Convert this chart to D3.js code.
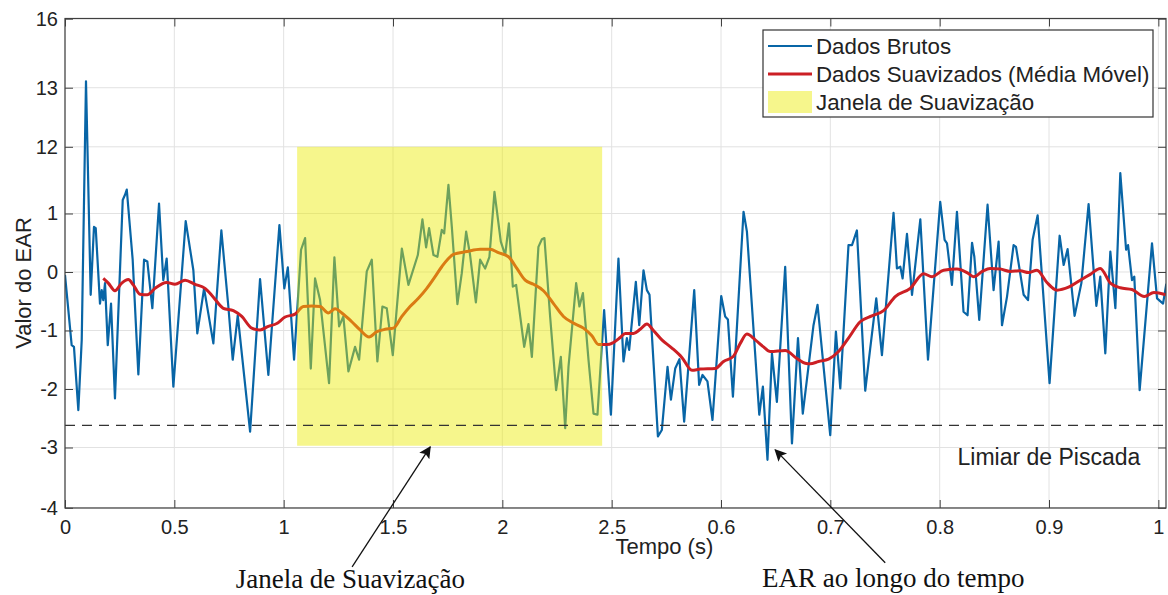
<!DOCTYPE html>
<html>
<head>
<meta charset="utf-8">
<script src="https://cdn.jsdelivr.net/npm/d3@7"></script>
<style>
  body { margin: 0; background: #fff; }
  text { font-family: "Liberation Sans", Arial, sans-serif; fill: #222; }
</style>
</head>
<body>
<script>
// ticks (positions on the axis + the labels as printed)
const xTickVals = [0, 1, 2, 3, 4, 5, 6, 7, 8, 9, 10]
const xTickLabels = ["0", "0.5", "1", "1.5", "2", "2.5", "0.6", "0.7", "0.8", "0.9", "1"]
const yTickVals = [-4.03, -3, -2, -1, 0, 1, 2.14, 3.15, 4.33]
const yTickLabels = ["-4", "-3", "-2", "-1", "0", "1", "12", "13", "16"]

// raw EAR signal (time in tick units, value)
const rawTime = [0.000, 0.061, 0.082, 0.122, 0.153, 0.192, 0.235, 0.265, 0.281, 0.320, 0.336, 0.350, 0.366, 0.391, 0.421, 0.457,
  0.528, 0.549, 0.565, 0.619, 0.671, 0.723, 0.753, 0.799, 0.860, 0.899, 0.930, 0.991, 1.104, 1.174, 1.210, 1.272,
  1.357, 1.430, 1.494, 1.534, 1.580, 1.693, 1.784, 1.860, 1.961, 2.006, 2.038, 2.095, 2.159, 2.196, 2.248, 2.287,
  2.333, 2.415, 2.464, 2.507, 2.546, 2.592, 2.653, 2.690, 2.760, 2.806, 2.857, 2.903, 2.943, 2.998, 3.081, 3.141,
  3.227, 3.269, 3.303, 3.330, 3.370, 3.406, 3.446, 3.468, 3.507, 3.538, 3.589, 3.629, 3.669, 3.705, 3.758, 3.797,
  3.843, 3.882, 3.928, 3.986, 4.026, 4.060, 4.096, 4.126, 4.200, 4.239, 4.270, 4.330, 4.362, 4.385, 4.437, 4.492,
  4.535, 4.575, 4.605, 4.675, 4.705, 4.737, 4.788, 4.834, 4.870, 4.931, 4.993, 5.062, 5.108, 5.139, 5.160, 5.221,
  5.252, 5.291, 5.322, 5.346, 5.423, 5.459, 5.511, 5.542, 5.581, 5.620, 5.663, 5.755, 5.800, 5.831, 5.876, 5.922,
  6.002, 6.038, 6.063, 6.109, 6.206, 6.237, 6.350, 6.383, 6.425, 6.466, 6.511, 6.587, 6.649, 6.704, 6.748, 6.846,
  6.883, 6.999, 7.051, 7.091, 7.166, 7.198, 7.243, 7.319, 7.365, 7.420, 7.472, 7.578, 7.609, 7.640, 7.661, 7.701,
  7.747, 7.823, 7.893, 8.005, 8.045, 8.067, 8.112, 8.158, 8.218, 8.255, 8.296, 8.317, 8.362, 8.438, 8.493, 8.539,
  8.570, 8.616, 8.676, 8.698, 8.768, 8.808, 8.850, 8.896, 9.005, 9.097, 9.134, 9.170, 9.234, 9.296, 9.362, 9.433,
  9.469, 9.515, 9.561, 9.607, 9.652, 9.705, 9.723, 9.759, 9.780, 9.829, 9.942, 9.988, 10.043, 10.073]
const rawValue = [-0.05, -1.25, -1.28, -2.36, -1.16, 3.26, -0.39, 0.77, 0.75, -0.54, -0.31, -0.48, -0.19, -1.25, -0.54, -2.16,
  1.23, 1.32, 1.41, 0.21, -1.75, 0.21, 0.18, -0.62, 1.17, -0.14, 0.23, -1.96, 0.87, 0.03, -1.05, -0.28,
  -1.22, 0.71, -0.59, -1.50, -0.74, -2.73, -0.12, -1.76, 0.80, -0.28, 0.08, -1.50, 0.38, 0.58, -1.65, -0.11,
  -0.48, -1.90, 0.25, -0.93, -0.76, -1.70, -1.28, -1.50, 0.01, 0.21, -1.53, -0.59, -0.62, -1.42, 0.40, -0.22,
  0.29, 0.90, 0.42, 0.75, 0.29, 0.26, 0.72, 0.66, 1.49, 0.77, -0.55, -0.02, 0.69, 0.29, -0.52, 0.21,
  0.06, 0.26, 1.37, 0.52, 0.29, 0.83, -0.25, -0.22, -1.28, -0.89, -1.45, 0.43, 0.56, 0.58, -0.76, -2.02,
  -1.45, -2.67, -1.62, -0.19, -0.59, -0.36, -1.50, -2.42, -2.44, -0.65, -2.44, 0.23, -1.53, -1.13, -1.33, -0.17,
  -0.91, 0.03, -0.31, -0.39, -2.81, -2.70, -1.62, -2.18, -1.65, -1.49, -2.56, -0.31, -1.93, -1.76, -1.87, -2.53,
  -0.41, -0.76, -0.81, -2.13, 1.03, 0.69, -2.44, -1.96, -3.21, -1.39, -2.22, 0.09, -2.93, -1.13, -2.42, -0.91,
  -0.56, -2.79, -1.02, -1.99, 0.46, 0.46, 0.71, -2.03, -1.30, -0.45, -1.42, 1.01, 0.06, 0.09, -0.11, 0.65,
  -0.39, 0.90, -1.50, 1.20, 0.55, 0.49, -0.22, 1.03, -0.68, -0.74, 0.50, 0.26, -0.82, 1.15, -0.31, 0.52,
  -0.91, -0.42, 0.46, 0.43, -0.39, -0.48, 0.55, 0.97, -1.90, 0.62, 0.12, 0.39, -0.75, -0.19, 1.16, -0.58,
  -0.08, -1.39, 0.35, -0.62, 1.69, 0.38, 0.46, -0.14, -0.08, -2.02, 0.49, -0.45, -0.54, -0.20]

// moving-average curve
const smoothTime = [0.350, 0.396, 0.457, 0.519, 0.579, 0.625, 0.686, 0.753, 0.823, 0.930, 1.006, 1.098, 1.189, 1.281, 1.357, 1.448,
  1.540, 1.617, 1.708, 1.784, 1.860, 1.937, 2.013, 2.104, 2.180, 2.257, 2.333, 2.409, 2.470, 2.532, 2.623, 2.699,
  2.781, 2.852, 2.928, 3.004, 3.081, 3.156, 3.232, 3.309, 3.385, 3.446, 3.553, 3.675, 3.797, 3.888, 3.964, 4.056,
  4.133, 4.209, 4.285, 4.376, 4.468, 4.559, 4.636, 4.742, 4.819, 4.879, 4.956, 5.011, 5.078, 5.124, 5.200, 5.261,
  5.322, 5.382, 5.459, 5.551, 5.642, 5.734, 5.810, 5.947, 6.023, 6.114, 6.176, 6.237, 6.313, 6.389, 6.450, 6.587,
  6.694, 6.770, 6.816, 6.892, 6.984, 7.075, 7.166, 7.273, 7.380, 7.487, 7.594, 7.731, 7.853, 7.930, 8.036, 8.158,
  8.250, 8.311, 8.390, 8.463, 8.554, 8.646, 8.737, 8.813, 8.890, 8.981, 9.073, 9.179, 9.286, 9.378, 9.469, 9.561,
  9.652, 9.759, 9.872, 9.960, 10.067]
const smoothValue = [-0.11, -0.19, -0.32, -0.19, -0.13, -0.22, -0.38, -0.39, -0.28, -0.18, -0.21, -0.14, -0.21, -0.28, -0.43, -0.62,
  -0.66, -0.76, -0.96, -0.99, -0.93, -0.88, -0.77, -0.72, -0.59, -0.58, -0.59, -0.70, -0.63, -0.70, -0.85, -0.99,
  -1.11, -1.02, -0.98, -0.96, -0.76, -0.59, -0.45, -0.28, -0.08, 0.09, 0.30, 0.35, 0.39, 0.39, 0.33, 0.26,
  0.06, -0.14, -0.21, -0.32, -0.54, -0.76, -0.86, -0.96, -1.09, -1.24, -1.24, -1.21, -1.12, -1.05, -1.05, -0.98,
  -0.89, -1.00, -1.16, -1.30, -1.46, -1.68, -1.66, -1.65, -1.53, -1.44, -1.22, -1.06, -1.16, -1.28, -1.36, -1.34,
  -1.48, -1.56, -1.57, -1.53, -1.49, -1.36, -1.13, -0.85, -0.75, -0.66, -0.42, -0.28, -0.03, -0.08, 0.03, 0.05,
  -0.01, -0.08, 0.01, 0.06, 0.05, 0.01, 0.02, -0.01, 0.03, -0.18, -0.31, -0.26, -0.14, -0.04, 0.06, -0.19,
  -0.27, -0.30, -0.42, -0.35, -0.39]

// smoothing window (time start/end, value bottom/top) and blink threshold
const windowSpan = [2.123, 4.913]
const windowRange = [-2.97, 2.14]
const threshold = -2.62

const legendLabels = ["Dados Brutos", "Dados Suavizados (Média Móvel)", "Janela de Suavização"]

// callouts below the axes: [text, textTime, textValue, tailTime, tailValue, tipTime, tipValue]
const callouts = [
  ["Janela de Suavização", 2.61, -5.40, 2.626, -5.04, 3.34, -2.99],
  ["EAR ao longo do tempo", 7.575, -5.38, 7.502, -4.97, 6.496, -3.04]
]

const width = 1168
const height = 595
const plotLeft = 65, plotRight = 1166, plotTop = 18.5, plotBottom = 508

const blue = '#0865a6'
const red = '#cc1f24'

const x = d3.scaleLinear().domain([0, 10.07]).range([plotLeft, plotRight])
const y = d3.scaleLinear().domain([-4.034, 4.333]).range([plotBottom, plotTop])

const svg = d3.select('body').append('svg')
        .attr('width', width)
        .attr('height', height)

const defs = svg.append('defs')
defs.append('clipPath').attr('id', 'plot')
        .append('rect')
        .attr('x', plotLeft).attr('y', plotTop)
        .attr('width', plotRight - plotLeft).attr('height', plotBottom - plotTop)

defs.append('marker')
        .attr('id', 'arrow')
        .attr('viewBox', '0 0 10 10')
        .attr('refX', 9).attr('refY', 5)
        .attr('markerWidth', 16).attr('markerHeight', 12)
        .attr('markerUnits', 'userSpaceOnUse')
        .attr('orient', 'auto')
        .append('path')
        .attr('d', 'M0,0 L10,5 L0,10 L2,5 Z')
        .attr('fill', '#111')

// grid
svg.append('g').selectAll('line').data(xTickVals).join('line')
        .attr('x1', d => x(d)).attr('x2', d => x(d))
        .attr('y1', plotTop).attr('y2', plotBottom)
        .attr('stroke', '#e2e2e2')
svg.append('g').selectAll('line').data(yTickVals).join('line')
        .attr('x1', plotLeft).attr('x2', plotRight)
        .attr('y1', d => y(d)).attr('y2', d => y(d))
        .attr('stroke', '#e2e2e2')

// data lines
const raw = rawTime.map((t, i) => [t, rawValue[i]])
const smooth = smoothTime.map((t, i) => [t, smoothValue[i]])
const line = d3.line().x(d => x(d[0])).y(d => y(d[1]))

const plot = svg.append('g').attr('clip-path', 'url(#plot)')

plot.append('path')
        .datum(raw)
        .attr('d', line)
        .attr('fill', 'none')
        .attr('stroke', blue)
        .attr('stroke-width', 2.2)
        .attr('stroke-linejoin', 'round')

plot.append('path')
        .datum(smooth)
        .attr('d', line.curve(d3.curveMonotoneX))
        .attr('fill', 'none')
        .attr('stroke', red)
        .attr('stroke-width', 3)
        .attr('stroke-linejoin', 'round')

// smoothing window overlay
plot.append('rect')
        .attr('x', x(windowSpan[0]))
        .attr('y', y(windowRange[1]))
        .attr('width', x(windowSpan[1]) - x(windowSpan[0]))
        .attr('height', y(windowRange[0]) - y(windowRange[1]))
        .attr('fill', '#ebeb00')
        .attr('opacity', 0.45)

// threshold
plot.append('line')
        .attr('x1', plotLeft).attr('x2', plotRight)
        .attr('y1', y(threshold)).attr('y2', y(threshold))
        .attr('stroke', '#333')
        .attr('stroke-width', 1.3)
        .attr('stroke-dasharray', '10,7')

svg.append('text')
        .attr('x', x(9.835))
        .attr('y', y(-3.30))
        .attr('text-anchor', 'end')
        .style('font-size', '23px')
        .text('Limiar de Piscada')

// axes
const xAxis = d3.axisBottom(x)
        .tickValues(xTickVals)
        .tickFormat((d, i) => xTickLabels[i])
        .tickSizeInner(-8).tickSizeOuter(0).tickPadding(12)
const yAxis = d3.axisLeft(y)
        .tickValues(yTickVals)
        .tickFormat((d, i) => yTickLabels[i])
        .tickSizeInner(-8).tickSizeOuter(0).tickPadding(7)

svg.append('g').attr('transform', 'translate(0,' + plotBottom + ')').call(xAxis)
svg.append('g').attr('transform', 'translate(' + plotLeft + ',0)').call(yAxis)
svg.append('g').attr('transform', 'translate(0,' + plotTop + ')')
        .call(d3.axisTop(x).tickValues(xTickVals).tickFormat('').tickSizeInner(-8).tickSizeOuter(0))
svg.append('g').attr('transform', 'translate(' + plotRight + ',0)')
        .call(d3.axisRight(y).tickValues(yTickVals).tickFormat('').tickSizeInner(-8).tickSizeOuter(0))

svg.selectAll('.domain').remove()
svg.selectAll('.tick line').attr('stroke', '#404040')
svg.selectAll('.tick text')
        .style('font-size', '20px')
        .style('font-family', '"Liberation Sans", Arial, sans-serif')
        .attr('fill', '#222')

svg.append('rect')
        .attr('x', plotLeft).attr('y', plotTop)
        .attr('width', plotRight - plotLeft).attr('height', plotBottom - plotTop)
        .attr('fill', 'none')
        .attr('stroke', '#404040')
        .attr('stroke-width', 1.2)

// axis titles
svg.append('text')
        .attr('x', (x(5) + x(6)) / 2 - 2)
        .attr('y', 554)
        .attr('text-anchor', 'middle')
        .style('font-size', '22px')
        .text('Tempo (s)')

svg.append('text')
        .attr('transform', 'translate(31,283) rotate(-90)')
        .attr('text-anchor', 'middle')
        .style('font-size', '22px')
        .text('Valor do EAR')

// legend
const lg = svg.append('g').attr('transform', 'translate(763,30)')
lg.append('rect')
        .attr('width', 390).attr('height', 87)
        .attr('fill', '#fff')
        .attr('stroke', '#333')
        .attr('stroke-width', 1.2)
lg.append('line').attr('x1', 5).attr('x2', 49).attr('y1', 16).attr('y2', 16)
        .attr('stroke', blue).attr('stroke-width', 2.2)
lg.append('line').attr('x1', 5).attr('x2', 49).attr('y1', 44).attr('y2', 44)
        .attr('stroke', red).attr('stroke-width', 3)
lg.append('rect').attr('x', 5).attr('y', 61).attr('width', 44).attr('height', 22)
        .attr('fill', '#ebeb00').attr('opacity', 0.45)
lg.selectAll('text.lab').data(legendLabels).join('text')
        .attr('class', 'lab')
        .attr('x', 53)
        .attr('y', (d, i) => 24 + i * 28)
        .style('font-size', '22.3px')
        .text(d => d)

// callouts
callouts.forEach(c => {
    svg.append('line')
        .attr('x1', x(c[3])).attr('y1', y(c[4]))
        .attr('x2', x(c[5])).attr('y2', y(c[6]))
        .attr('stroke', '#111')
        .attr('stroke-width', 1.3)
        .attr('marker-end', 'url(#arrow)')
    svg.append('text')
        .attr('x', x(c[1])).attr('y', y(c[2]))
        .attr('text-anchor', 'middle')
        .style('font-family', '"Liberation Serif", "Times New Roman", serif')
        .style('font-size', '27px')
        .style('fill', '#111')
        .text(c[0])
})
</script>
</body>
</html>
